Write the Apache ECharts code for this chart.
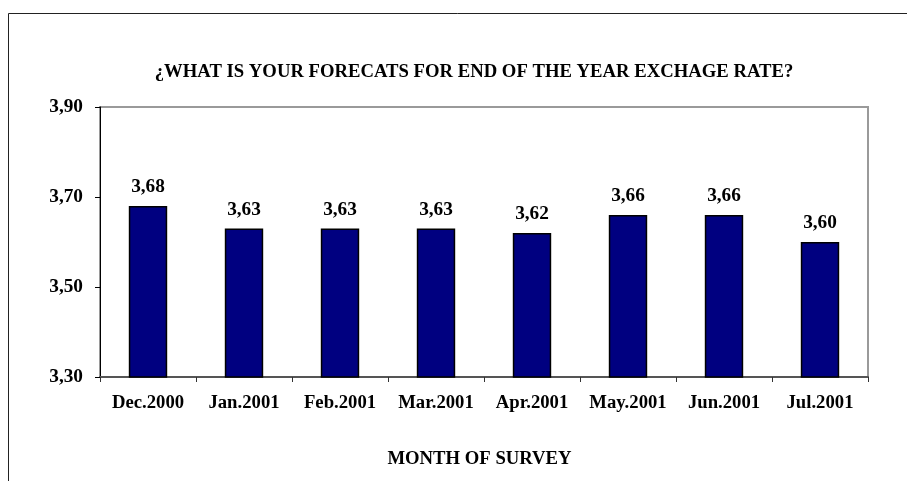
<!DOCTYPE html>
<html>
<head>
<meta charset="utf-8">
<script src="https://cdn.jsdelivr.net/npm/echarts@6/dist/echarts.min.js"></script>
<style>
  html, body { margin: 0; padding: 0; background: #fff; }
  #chart { width: 907px; height: 481px; }
</style>
</head>
<body>
<div id="chart"></div>
<script>
// Survey months and the average end-of-year exchange rate forecast for each
const months = ['Dec.2000', 'Jan.2001', 'Feb.2001', 'Mar.2001', 'Apr.2001', 'May.2001', 'Jun.2001', 'Jul.2001'];
const forecasts = [3.68, 3.63, 3.63, 3.63, 3.62, 3.66, 3.66, 3.60];
const yTicks = [3.30, 3.50, 3.70, 3.90];

const titleText = '¿WHAT IS YOUR FORECATS FOR END OF THE YEAR EXCHAGE RATE?';
const xAxisTitle = 'MONTH OF SURVEY';

const FONT = '"Liberation Serif", "Times New Roman", serif';
const fmt = v => v.toFixed(2).replace('.', ',');

const chart = echarts.init(document.getElementById('chart'), null, { renderer: 'canvas' });

chart.setOption({
  backgroundColor: '#ffffff',
  animation: false,
  title: {
    text: titleText,
    left: 469,
    textAlign: 'center',
    top: 58,
    textStyle: { fontFamily: FONT, fontWeight: 'bold', fontSize: 18.7, color: '#000' }
  },
  graphic: [
    {
      type: 'polyline',
      shape: { points: [[8.5, 481], [8.5, 13.5], [907, 13.5]] },
      style: { stroke: '#222', lineWidth: 1, fill: null },
      silent: true
    }
  ],
  grid: {
    left: 100, right: 39, top: 107, bottom: 104,
    show: true, borderColor: '#9a9a9a', borderWidth: 2, backgroundColor: '#fff'
  },
  xAxis: {
    type: 'category',
    data: months,
    name: xAxisTitle,
    nameLocation: 'middle',
    nameGap: 73,
    nameTextStyle: {
      fontFamily: FONT, fontWeight: 'bold', fontSize: 18.7, color: '#000',
      padding: [0, 9, 0, 0]
    },
    axisLine: { show: true, lineStyle: { color: '#555', width: 2 } },
    axisTick: { show: true, alignWithLabel: false, length: 5, lineStyle: { color: '#333' } },
    axisLabel: { fontFamily: FONT, fontWeight: 'bold', fontSize: 18.7, color: '#000', margin: 17, interval: 0 },
    splitLine: { show: false }
  },
  yAxis: {
    type: 'value',
    min: 3.30,
    max: 3.90,
    interval: 0.20,
    axisLine: { show: true, lineStyle: { color: '#000', width: 1 } },
    axisTick: { show: true, length: 5, lineStyle: { color: '#000' } },
    axisLabel: {
      fontFamily: FONT, fontWeight: 'bold', fontSize: 19.3, color: '#000', margin: 17,
      formatter: v => yTicks.some(t => Math.abs(t - v) < 1e-9) ? fmt(v) : ''
    },
    splitLine: { show: false }
  },
  series: [{
    type: 'bar',
    data: forecasts,
    barWidth: '40%',
    itemStyle: { color: '#000080', borderColor: '#000', borderWidth: 1.5 },
    label: {
      show: true,
      position: 'top',
      distance: 9,
      formatter: p => fmt(p.value),
      fontFamily: FONT, fontWeight: 'bold', fontSize: 19.3, color: '#000'
    }
  }]
});
</script>
</body>
</html>
